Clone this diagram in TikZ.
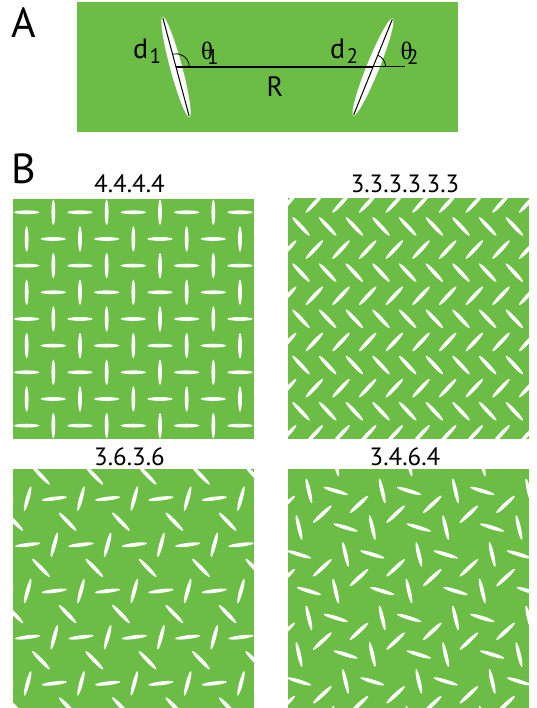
\documentclass[tikz,border=0pt]{standalone}
\usepackage{fontspec}
\setmainfont{PT Sans}
\newfontfamily\thetafont{Liberation Serif}
\definecolor{leaf}{RGB}{107,189,69}
\newcommand\dipole[3]{\pgfmathsetmacro\dpx{#1}\pgfmathsetmacro\dpy{#2}\pgfmathsetmacro\dpa{#3}%
  \fill[white, rotate around={\dpa:(\dpx,\dpy)}] (\dpx,\dpy) ellipse [x radius=12.7, y radius=1.9];}
\tikzset{
  panel/.style={fill=leaf},
  lab/.style={inner sep=0pt, anchor=base},
  bigfont/.style={font=\fontsize{42}{42}\selectfont},
  ttl/.style={lab, font=\fontsize{25}{25}\selectfont},
  sym/.style={inner sep=0pt, anchor=base west, font=\fontsize{28}{28}\selectfont},
  sub/.style={inner sep=0pt, anchor=base west, font=\fontsize{21}{21}\selectfont},
  th/.style={inner sep=0pt, anchor=base west, font=\thetafont\fontsize{25}{25}\selectfont},
}
\begin{document}
\begin{tikzpicture}[x=1pt,y=-1pt]
\useasboundingbox (0,0) rectangle (537,708);
% ---------- panel A ----------
\node[lab, anchor=base west, bigfont] (labA) at (11,38) {A};
\fill[panel] (77,2) rectangle (458,132);
\coordinate (c1) at (176,67);
\coordinate (c2) at (373,67);
\coordinate (tail) at (405,67);
\fill[white, rotate around={105:(c1)}] (c1) ellipse [x radius=52, y radius=6];
\fill[white, rotate around={68:(c2)}] (c2) ellipse [x radius=52.5, y radius=6.3];
\draw[line width=1pt, shift={(c1)}, rotate=105] (-51,0) -- (51,0);
\draw[line width=1pt, shift={(c2)}, rotate=68] (-51.5,0) -- (51.5,0);
\draw[line width=2.5pt] (c1) -- (c2);
\draw[line width=1pt] (c2) -- (tail);
\draw[line width=0.8pt] (c1) ++(13.3,0) arc[start angle=0, end angle=-105, radius=13.3];
\draw[line width=0.8pt] (c2) ++(12.7,0) arc[start angle=0, end angle=-68, radius=12.7];
\node[sym] (d1) at (133,58.5) {d};
\node[sub] (d1s) at (149.5,63.5) {1};
\node[th] (t1) at (201,60) {θ};
\node[sub] (t1s) at (207,64.5) {1};
\node[sym] (d2) at (330,58.5) {d};
\node[sub] (d2s) at (346.5,63.5) {2};
\node[th] (t2) at (400.5,60) {θ};
\node[sub] (t2s) at (407,64.5) {2};
\node[lab, font=\fontsize{28}{28}\selectfont] (R) at (275,97) {R};
% ---------- panel B ----------
\node[lab, anchor=base west, bigfont] (labB) at (11,184) {B};
\node[ttl] (t44) at (129.5,193) {4.4.4.4};
\node[ttl] (t33) at (405,193) {3.3.3.3.3.3};
\node[ttl] (t36) at (129.5,465) {3.6.3.6};
\node[ttl] (t34) at (405,465) {3.4.6.4};
% 4.4.4.4
\begin{scope}
\clip (13,199) rectangle (254,439);
\fill[panel] (13,199) rectangle (254,439);
\foreach \k in {1,...,9}{\foreach \m in {0,...,8}{
  \dipole{26.667*\k}{212.3+26.667*\m}{90*(1-mod(\k+\m,2))}
}}
\end{scope}
% 3.3.3.3.3.3
\begin{scope}
\clip (288,198) rectangle (529,439);
\fill[panel] (288,198) rectangle (529,439);
\foreach \n in {0,...,10}{\foreach \k in {-1,...,9}{
  \pgfmathsetmacro\pp{mod(\n,2)}
  \dipole{287.7+13.333*\pp+26.667*\k}{203.4+23.094*\n}{47-94*\pp}
}}
\end{scope}
% 3.6.3.6
\begin{scope}
\clip (13,469) rectangle (254,708);
\fill[panel] (13,469) rectangle (254,708);
\foreach \r in {0,...,5}{\foreach \k in {-1,...,5}{
  \pgfmathsetmacro\yy{475.5+46.188*\r}
  \pgfmathsetmacro\xo{14.3+26.667*mod(\r,2)+53.333*\k}
  \dipole{\xo+26.667}{\yy}{-46}
  \dipole{\xo+13.333}{\yy+23.094}{75}
  \dipole{\xo+40}{\yy+23.094}{7}
}}
\end{scope}
% 3.4.6.4
\begin{scope}
\clip (288,469) rectangle (529,708);
\fill[panel] (288,469) rectangle (529,708);
\foreach \n in {-1,...,3}{\foreach \m in {-3,...,4}{
  \pgfmathsetmacro\hx{322.3+73.3*\m+36.65*\n}
  \pgfmathsetmacro\hy{541+63.48*\n}
  \pgfmathsetmacro\tdx{\hx}
  \pgfmathsetmacro\tdy{\hy-42.32}
  \pgfmathsetmacro\tux{\hx+36.65}
  \pgfmathsetmacro\tuy{\hy-21.16}
  \foreach \p in {150,30,270}{\dipole{\tdx+15.47*cos(\p)}{\tdy-15.47*sin(\p)}{\p-47}}
  \foreach \p in {90,210,330}{\dipole{\tux+15.47*cos(\p)}{\tuy-15.47*sin(\p)}{\p-47}}
}}
\end{scope}
\end{tikzpicture}
\end{document}
